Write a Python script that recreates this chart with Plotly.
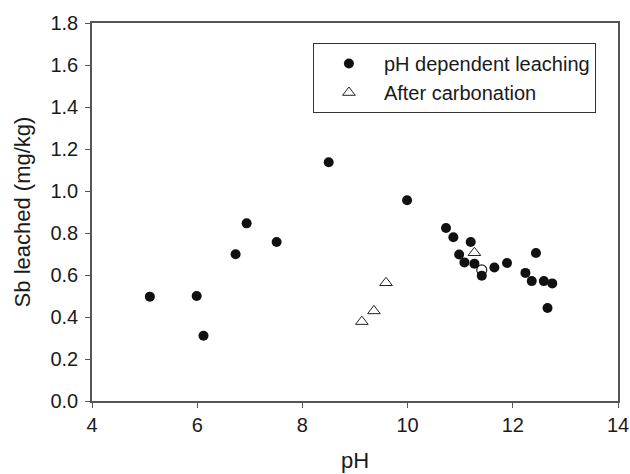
import plotly.graph_objects as go

# pH dependent leaching (filled circles)
ph_leach = [5.10, 5.99, 6.12, 6.73, 6.94, 7.51, 8.50, 9.99, 10.73, 10.87, 10.98, 11.08,
            11.20, 11.27, 11.41, 11.65, 11.89, 12.24, 12.36, 12.44, 12.59, 12.66, 12.75]
sb_leach = [0.497, 0.500, 0.311, 0.699, 0.846, 0.757, 1.137, 0.956, 0.824, 0.780, 0.698, 0.660,
            0.757, 0.654, 0.597, 0.636, 0.657, 0.610, 0.571, 0.705, 0.571, 0.443, 0.560]

# After carbonation (open triangles)
ph_carb = [9.13, 9.36, 9.59, 11.27]
sb_carb = [0.378, 0.429, 0.563, 0.706]

# Unlabelled open circle
ph_open = [11.41]
sb_open = [0.624]

FONT = "Liberation Sans, Arial, sans-serif"
AX = "#555555"
TXT = "#1a1a1a"

fig = go.Figure()
fig.add_trace(go.Scatter(
    x=ph_open, y=sb_open, mode="markers", showlegend=False,
    marker=dict(symbol="circle-open", size=10, color="#222222", line=dict(width=1.2)),
))
fig.add_trace(go.Scatter(
    x=ph_leach, y=sb_leach, mode="markers", name="pH dependent leaching",
    marker=dict(symbol="circle", size=10, color="#111111"),
))
fig.add_trace(go.Scatter(
    x=ph_carb, y=sb_carb, mode="markers", name="After carbonation",
    marker=dict(symbol="triangle-up-open", size=11, color="#222222", line=dict(width=1)),
))

axis_common = dict(
    showline=True, linecolor=AX, linewidth=1.5, mirror=True,
    ticks="outside", ticklen=5, tickwidth=1.2, tickcolor=AX,
    showgrid=False, zeroline=False, automargin=False,
    tickfont=dict(family=FONT, size=20, color=TXT),
)

fig.update_layout(
    width=630, height=474,
    margin=dict(l=92, r=12, t=23, b=73),
    paper_bgcolor="white", plot_bgcolor="white",
    font=dict(family=FONT, color=TXT),
    xaxis=dict(range=[4, 14], dtick=2, tick0=4,
               title=dict(text="pH", font=dict(family=FONT, size=22, color=TXT), standoff=18),
               **axis_common),
    yaxis=dict(range=[0, 1.8], dtick=0.2, tick0=0, tickformat=".1f", ticklabelstandoff=3,
               title=dict(text="Sb leached (mg/kg)", font=dict(family=FONT, size=22, color=TXT), standoff=14),
               **axis_common),
    legend=dict(
        x=0.42, y=0.947, xanchor="left", yanchor="top",
        bordercolor="#333333", borderwidth=1, bgcolor="white",
        font=dict(family=FONT, size=20, color=TXT),
        itemwidth=60, tracegroupgap=0,
    ),
    showlegend=True,
)

fig.write_html(
    "out.html",
    config={"displayModeBar": False},
    post_script="document.body.style.margin='0';document.body.style.overflow='hidden';",
)
